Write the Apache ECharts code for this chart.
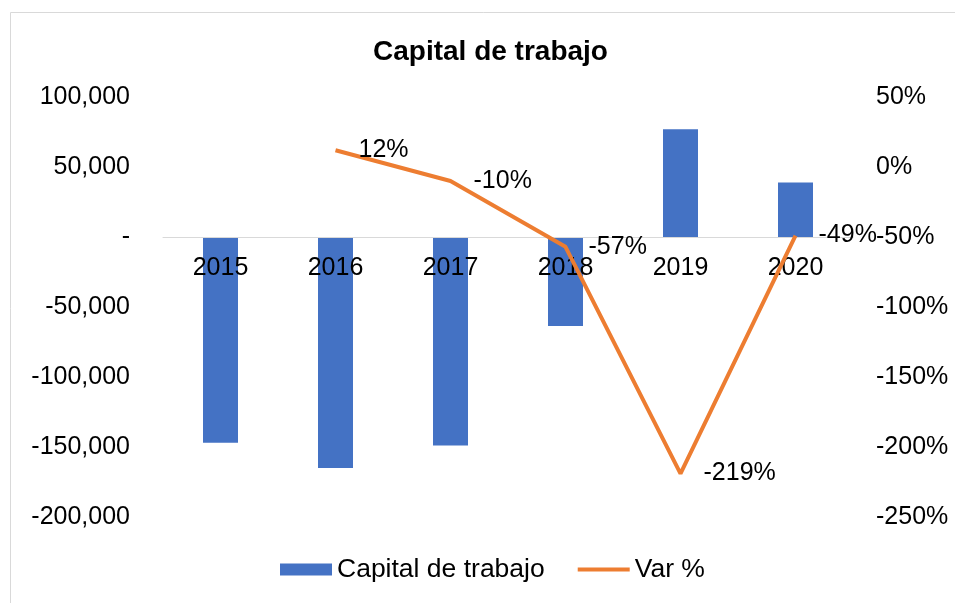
<!DOCTYPE html>
<html lang="es" style="height: 100%">
<head>
  <meta charset="utf-8">
  <title>Capital de trabajo</title>
</head>
<body style="height: 100%; margin: 0">
  <div id="container" style="width: 955px;height: 603px"></div>

  <script type="text/javascript" src="https://cdn.jsdelivr.net/npm/echarts@6/dist/echarts.min.js"></script>
  <script type="text/javascript">
    // datos
    const years = ['2015', '2016', '2017', '2018', '2019', '2020'];
    const capital = [-147000, -165000, -149000, -63500, 77000, 39000];
    const varPct = [null, 12, -10, -57, -219, -49];

    var dom = document.getElementById('container');
    var myChart = echarts.init(dom, null, { renderer: 'canvas' });

    var font = 'Liberation Sans, Arial, sans-serif';

    var option = {
      animation: false,
      textStyle: { fontFamily: font },
      title: {
        text: 'Capital de trabajo',
        left: 368,
        top: 33,
        textStyle: { fontSize: 28, fontWeight: 'bold', color: '#000', fontFamily: font }
      },
      graphic: [{
        type: 'rect',
        left: 8, top: 10,
        shape: { width: 960, height: 600 },
        style: { fill: 'none', stroke: '#d9d9d9', lineWidth: 1 },
        silent: true
      }],
      legend: {
        bottom: 15,
        left: 275,
        itemGap: 33,
        itemWidth: 52,
        itemHeight: 12,
        textStyle: { fontSize: 26.5, color: '#000', fontFamily: font },
        data: [
          { name: 'Capital de trabajo', icon: 'rect' },
          { name: 'Var %', icon: 'path://M0,0 L13,0 L13,1 L0,1 Z' }
        ]
      },
      grid: { left: 163, right: 102, top: 97, bottom: 86 },
      xAxis: {
        type: 'category',
        data: years,
        z: 2.5,
        axisLine: { onZero: true, lineStyle: { color: '#d9d9d9', width: 1 } },
        axisTick: { show: false },
        axisLabel: { fontSize: 25, color: '#000', margin: -261, fontFamily: font }
      },
      yAxis: [{
        type: 'value',
        min: -200000, max: 100000, interval: 50000,
        splitLine: { show: false },
        axisLine: { show: false },
        axisTick: { show: false },
        axisLabel: {
          fontSize: 25, color: '#000', margin: 33, fontFamily: font,
          formatter: function (v) { return v === 0 ? '-' : v.toLocaleString('en-US'); }
        }
      }, {
        type: 'value',
        min: -250, max: 50, interval: 50,
        splitLine: { show: false },
        axisLine: { show: false },
        axisTick: { show: false },
        axisLabel: {
          fontSize: 25, color: '#000', margin: 23, fontFamily: font,
          formatter: function (v) { return v + '%'; }
        }
      }],
      series: [{
        name: 'Capital de trabajo',
        type: 'bar',
        data: capital,
        barWidth: 35,
        z: 2,
        itemStyle: { color: '#4472C4' }
      }, {
        name: 'Var %',
        type: 'line',
        yAxisIndex: 1,
        data: varPct,
        z: 3,
        symbol: 'circle',
        symbolSize: 0,
        showSymbol: true,
        lineStyle: { color: '#ED7D31', width: 4 },
        itemStyle: { color: '#ED7D31' },
        label: {
          show: true,
          position: 'right',
          distance: 23,
          padding: [6, 0, 0, 0],
          fontSize: 25,
          color: '#000',
          fontFamily: font,
          formatter: function (p) { return p.value + '%'; }
        },
        labelLayout: { hideOverlap: false }
      }]
    };

    myChart.setOption(option);
    window.addEventListener('resize', myChart.resize);
  </script>
</body>
</html>
